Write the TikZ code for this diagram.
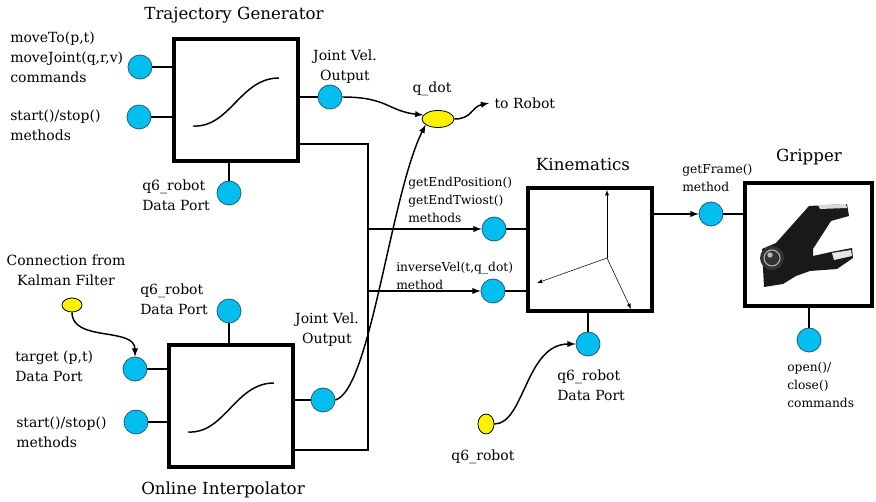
\documentclass[tikz,border=0pt]{standalone}
\usepackage{fontspec}
\setmainfont{DejaVu Serif}
\usepackage{tikz}
\usetikzlibrary{shapes.geometric}

\definecolor{portblue}{HTML}{00BFEF}
\definecolor{portedge}{HTML}{1F5F7A}
\definecolor{sigyellow}{HTML}{FFF200}

\begin{document}
\begin{tikzpicture}[x=0.75pt,y=-0.75pt,>=latex,
        port/.style={circle,draw=portedge,fill=portblue,line width=0.6pt,minimum size=18pt,inner sep=0},
        block/.style={draw,line width=3pt,minimum width=93pt,minimum height=92pt},
        sig/.style={ellipse,draw,fill=sigyellow,line width=0.6pt,inner sep=0},
        lbl/.style={inner sep=0,align=left,font=\fontsize{10.5}{15}\selectfont},
        slbl/.style={inner sep=0,align=left,font=\fontsize{9.2}{13.5}\selectfont},
        ttl/.style={inner sep=0,font=\fontsize{12.5}{15}\selectfont},
        stub/.style={line width=1.5pt},
        wire/.style={line width=1.1pt}]
        \useasboundingbox (0,0) rectangle (876,502);

        % blocks
        \node[block] (tg) at (236,100) {};
        \node[block] (oi) at (230.5,406) {};
        \node[block] (kin) at (589.5,249.5) {};
        \node[block,minimum width=95pt] (grip) at (808.5,244.5) {};

        \node[ttl] (tgname) at (234,15) {Trajectory Generator};
        \node[ttl] (oiname) at (223,490) {Online Interpolator};
        \node[ttl] (kinname) at (583,164) {Kinematics};
        \node[ttl] (gripname) at (809,157) {Gripper};

        % ports
        \node[port] (tgcmd) at (140,67) {};
        \node[port] (tgstart) at (139,117) {};
        \node[port] (tgout) at (330,97) {};
        \node[port] (tgq6) at (229,193) {};
        \node[port] (oiq6) at (229,311) {};
        \node[port] (oitgt) at (135,369) {};
        \node[port] (oistart) at (136,422) {};
        \node[port] (oiout) at (323,400) {};
        \node[port] (kinpos) at (494,229) {};
        \node[port] (kininv) at (493,291) {};
        \node[port] (kinq6) at (588,344) {};
        \node[port] (gripframe) at (711,214) {};
        \node[port] (gripcmd) at (809,340) {};

        % signals
        \node[sig,minimum width=24pt,minimum height=12.75pt] (qdot) at (438,119) {};
        \node[sig,minimum width=15pt,minimum height=10.5pt] (kf) at (72,305) {};
        \node[sig,minimum width=12pt,minimum height=15pt] (q6sig) at (486,424) {};

        % labels
        \node[lbl,anchor=west] (tgcmdtxt) at (10,57) {moveTo(p,t)\\moveJoint(q,r,v)\\commands};
        \node[lbl,anchor=west] (tgstarttxt) at (10,125) {start()/stop()\\methods};
        \node[lbl,align=center] (tgouttxt) at (345,67) {Joint Vel.\\Output};
        \node[lbl,anchor=west] (tgq6txt) at (142,195) {q6\_robot\\Data Port};
        \node[lbl,align=center] (kftxt) at (66,270) {Connection from\\Kalman Filter};
        \node[lbl,anchor=west] (oiq6txt) at (140,299) {q6\_robot\\Data Port};
        \node[lbl,anchor=west] (oitgttxt) at (15,366) {target (p,t)\\Data Port};
        \node[lbl,anchor=west] (oistarttxt) at (16,432) {start()/stop()\\methods};
        \node[lbl,align=center] (oiouttxt) at (327,330) {Joint Vel.\\Output};
        \node[lbl] (qdottxt) at (432,89) {q\_dot};
        \node[lbl,anchor=west,inner sep=4pt] (robot) at (489,103) {to Robot};
        \node[slbl,anchor=west] (kinpostxt) at (408,200) {getEndPosition()\\getEndTwiost()\\methods};
        \node[slbl,anchor=west] (kininvtxt) at (396,276) {inverseVel(t,q\_dot)\\method};
        \node[lbl,anchor=west] (kinq6txt) at (557,385) {q6\_robot\\Data Port};
        \node[lbl] (q6sigtxt) at (483,457) {q6\_robot};
        \node[slbl,anchor=west] (gripframetxt) at (682,178) {getFrame()\\method};
        \node[slbl,anchor=west] (gripcmdtxt) at (787,385) {open()/\\close()\\commands};

        % port stubs
        \draw[stub] (tgcmd) -- (tgcmd -| tg.west);
        \draw[stub] (tgstart) -- (tgstart -| tg.west);
        \draw[stub] (tgout) -- (tgout -| tg.east);
        \draw[stub] (tgq6) -- (tgq6 |- tg.south);
        \draw[stub] (oiq6) -- (oiq6 |- oi.north);
        \draw[stub] (oitgt) -- (oitgt -| oi.west);
        \draw[stub] (oistart) -- (oistart -| oi.west);
        \draw[stub] (oiout) -- (oiout -| oi.east);
        \draw[stub] (kinpos) -- (kinpos -| kin.west);
        \draw[stub] (kininv) -- (kininv -| kin.west);
        \draw[stub] (kinq6) -- (kinq6 |- kin.south);
        \draw[stub] (gripframe) -- (gripframe -| grip.west);
        \draw[stub] (gripcmd) -- (gripcmd |- grip.south);

        % bus from both generators
        \coordinate (bustop) at (368,144);
        \coordinate (busbot) at (368,450);
        \draw[wire] (bustop -| tg.east) -- (bustop) -- (busbot) -- (busbot -| oi.east);
        \draw[wire,->] (bustop |- kinpos) -- (kinpos.west);
        \draw[wire,->] (bustop |- kininv) -- (kininv.west);
        \draw[wire,->] (kin.east |- gripframe) -- (gripframe.west);

        % curved signals
        \draw[wire,->] (tgout.east) .. controls +(45,0) and +(-35,-4) .. (qdot.165);
        \draw[wire,->] (oiout.east) .. controls +(35,-10) and +(-35,70) .. (qdot.205);
        \draw[wire,->] (qdot.east) .. controls +(18,0) and +(-18,4) .. (robot.west);
        \draw[wire,->] (kf.south) .. controls +(0,30) and +(0,-30) .. (oitgt.north);
        \draw[wire,->] (q6sig.east) .. controls +(30,0) and +(-50,0) .. (kinq6.west);

        % block icons
        \draw[line width=1.1pt] (193,126) .. controls (230,128) and (240,78) .. (279,78);
        \draw[line width=1.1pt] (188,432) .. controls (225,434) and (235,383) .. (274,383);

        \coordinate (korig) at (607,258);
        \draw[->] (korig) -- (607,190);
        \draw[->] (korig) -- (537,283);
        \draw[->] (korig) -- (631,309);

        % gripper picture
        \fill[black!90] (809,206) -- (847,204) -- (849,216) -- (831,221) -- (813,249) -- (813,256)
            -- (831,252) -- (852,248) -- (853,258) -- (837,269) -- (810,271) -- (796,276)
            -- (783,284) -- (764,287) -- (762,249) -- (776,243) -- cycle;
        \fill[black!80] (772,258) circle[radius=9pt];
        \draw[gray!60,line width=0.8pt] (772,258) circle[radius=6pt];
        \fill[gray!55] (770,255) circle[radius=2pt];
        \fill[gray!30] (818,205) -- (846,204) -- (847,208) -- (820,209) -- cycle;
        \fill[gray!20] (832,253) -- (851,250) -- (852,256) -- (834,260) -- cycle;
    \end{tikzpicture}
\end{document}
